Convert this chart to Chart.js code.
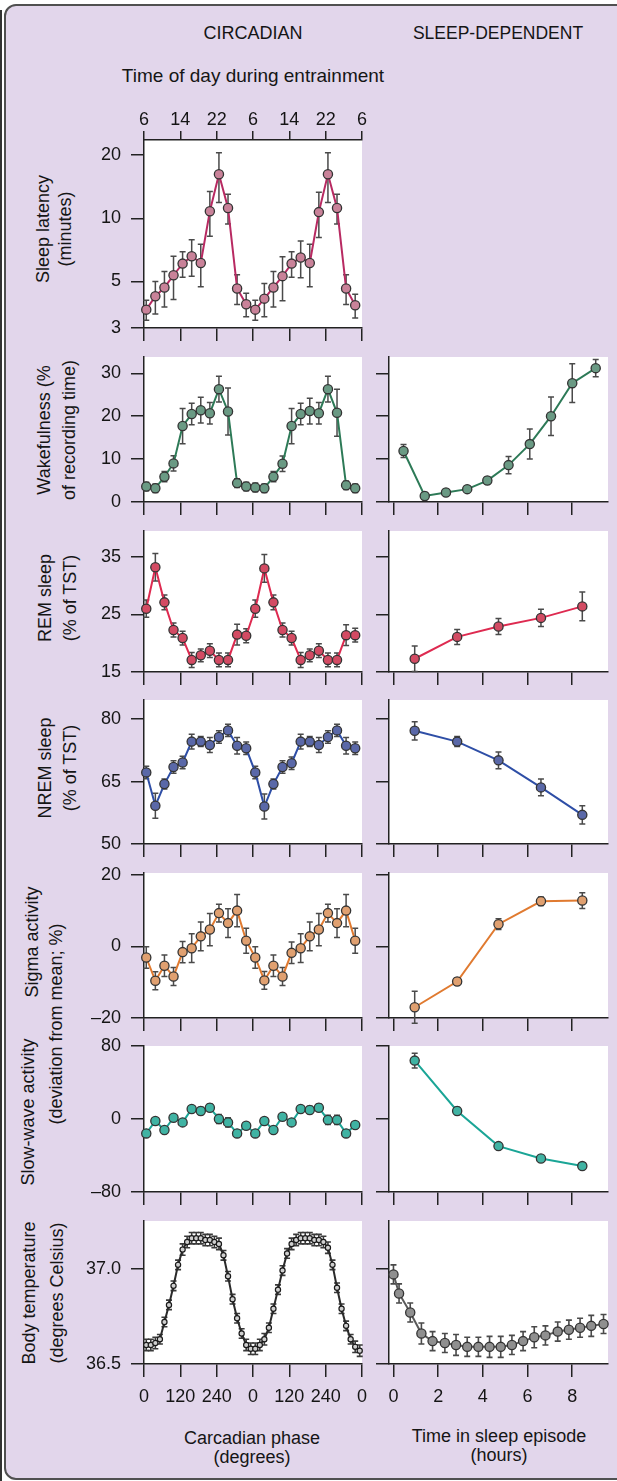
<!DOCTYPE html>
<html><head><meta charset="utf-8">
<script src="https://cdn.jsdelivr.net/npm/chart.js@4.4.0/dist/chart.umd.min.js"></script>
<style>
html,body{margin:0;padding:0;}
body{width:617px;height:1481px;position:relative;overflow:hidden;background:#fff;font-family:'Liberation Sans',Arial,sans-serif;color:#151515;}
#frame{position:absolute;left:4px;top:4px;width:660px;height:1472px;border:2px solid #505050;border-radius:12px;background:#e2d6eb;}
#edge{position:absolute;left:0;top:10px;width:2px;height:1471px;background:#333;}
.t{position:absolute;white-space:nowrap;transform:translate(-50%,-50%);font-size:18px;line-height:21px;text-align:center;}
.r{position:absolute;white-space:nowrap;transform:translate(-50%,-50%) rotate(-90deg);font-size:18px;text-align:center;}
canvas{position:absolute;}
</style></head>
<body>
<div id="edge"></div>
<div id="frame"></div>
<div class="t" style="left:253px;top:33px;font-size:18px">CIRCADIAN</div>
<div class="t" style="left:498px;top:33px;font-size:17.5px">SLEEP-DEPENDENT</div>
<div class="t" style="left:253px;top:75px;font-size:19px">Time of day during entrainment</div>
<div class="r" style="left:54px;top:229px;line-height:22px">Sleep latency<br>(minutes)</div>
<div class="r" style="left:57px;top:430px;line-height:25px">Wakefulness (%<br>of recording time)</div>
<div class="r" style="left:58px;top:598px;line-height:25px">REM sleep<br>(% of TST)</div>
<div class="r" style="left:58px;top:768px;line-height:25px">NREM sleep<br>(% of TST)</div>
<div class="r" style="left:32px;top:942px">Sigma activity</div>
<div class="r" style="left:56px;top:1024px">(deviation from mean; %)</div>
<div class="r" style="left:28px;top:1112px">Slow-wave activity</div>
<div class="r" style="left:43px;top:1293px;line-height:28px">Body temperature<br>(degrees Celsius)</div>
<div class="t" style="left:252px;top:1438px">Carcadian phase</div>
<div class="t" style="left:252px;top:1457px">(degrees)</div>
<div class="t" style="left:499px;top:1436px">Time in sleep episode</div>
<div class="t" style="left:499px;top:1455px">(hours)</div>
<script>
// ---------- DATA ----------
const circTicks = [0, 120, 240, 360, 480, 600, 720];
const clockTickLabels = ['6', '14', '22', '6', '14', '22', '6'];
const hourTicks = [0, 2, 4, 6, 8];

const circPhase = [7.5, 37.5, 67.5, 97.5, 127.5, 157.5, 187.5, 217.5, 247.5, 277.5, 307.5, 337.5,
  367.5, 397.5, 427.5, 457.5, 487.5, 517.5, 547.5, 577.5, 607.5, 637.5, 667.5, 697.5];

const latencyCirc = [3.67, 4.25, 4.68, 5.35, 6.08, 6.59, 6.12, 10.8, 16.2, 11.2, 4.63, 3.89,
  3.67, 4.14, 4.68, 5.30, 6.08, 6.50, 6.12, 10.7, 16.2, 11.2, 4.63, 3.85];
const latencyCircErr = [0.4, 0.75, 0.9, 1.25, 0.85, 1.3, 1.4, 2.6, 4.3, 1.8, 0.75, 0.5,
  0.4, 0.75, 0.9, 1.25, 0.85, 1.3, 1.4, 2.6, 4.3, 1.8, 0.75, 0.5];

const wakeCirc = [3.6, 3.2, 5.9, 9.0, 17.7, 20.5, 21.4, 20.7, 26.3, 21.1, 4.4, 3.6,
  3.4, 3.2, 5.9, 8.9, 17.7, 20.5, 21.2, 20.7, 26.3, 20.8, 3.9, 3.2];
const wakeCircErr = [1, 1, 1.2, 1.8, 4.1, 2.5, 3, 2.5, 3, 5.5, 1, 1,
  1, 1, 1.2, 1.8, 4.1, 2.5, 3, 2.5, 3, 5.5, 1, 1];

const remCirc = [26.0, 33.2, 27.1, 22.3, 20.9, 17.1, 17.9, 18.7, 17.1, 17.1, 21.5, 21.3,
  26.0, 33.0, 27.1, 22.3, 20.9, 17.1, 17.9, 18.7, 17.1, 17.1, 21.4, 21.4];
const remCircErr = [1.5, 2.4, 1.3, 1.2, 1.2, 1.3, 1.1, 1.2, 1.2, 1.2, 1.8, 1.2,
  1.5, 2.4, 1.3, 1.2, 1.2, 1.3, 1.1, 1.2, 1.2, 1.2, 1.8, 1.2];

const nremCirc = [67.2, 59.2, 64.4, 68.5, 69.6, 74.6, 74.6, 73.8, 75.7, 77.3, 73.6, 73.0,
  67.2, 59.0, 64.4, 68.5, 69.4, 74.6, 74.6, 73.8, 75.7, 77.3, 73.6, 73.0];
const nremCircErr = [1.5, 3, 1.2, 1.5, 1.5, 1.8, 1.2, 1.8, 1.5, 1.5, 2, 1.5,
  1.5, 3, 1.2, 1.5, 1.5, 1.8, 1.2, 1.8, 1.5, 1.5, 2, 1.5];

const sigmaCirc = [-3.1, -9.6, -5.4, -8.4, -1.6, -0.5, 2.8, 4.7, 9.3, 6.5, 10.0, 1.6,
  -3.1, -9.5, -5.4, -8.4, -1.8, -0.5, 2.8, 4.7, 9.3, 6.5, 10.0, 1.6];
const sigmaCircErr = [3, 2.5, 3, 2.5, 3, 4, 4, 4.5, 2.5, 4, 4.5, 3.5,
  3, 2.5, 3, 2.5, 3, 4, 4, 4.5, 2.5, 4, 4.5, 3.5];

const swaCirc = [-15.8, -2.2, -12.1, 1.4, -3.7, 11, 8.8, 12.4, 0, -3.7, -15.8, -7.4,
  -15.8, -2.2, -12.0, 2.5, -3.7, 11, 9.9, 12.4, -1, -1, -15.8, -6.6];
const swaCircErr = [3, 3, 3, 3, 3, 3, 4, 4, 5, 5, 3, 3,
  3, 3, 3, 3, 3, 3, 4, 4, 5, 5, 3, 3];

const tempPhase = [7.5, 22.5, 37.5, 52.5, 67.5, 82.5, 97.5, 112.5, 127.5, 142.5, 157.5, 172.5,
  187.5, 202.5, 217.5, 232.5, 247.5, 262.5, 277.5, 292.5, 307.5, 322.5, 337.5, 352.5,
  367.5, 382.5, 397.5, 412.5, 427.5, 442.5, 457.5, 472.5, 487.5, 502.5, 517.5, 532.5,
  547.5, 562.5, 577.5, 592.5, 607.5, 622.5, 637.5, 652.5, 667.5, 682.5, 697.5, 712.5];
const tempCirc = [36.60, 36.60, 36.61, 36.63, 36.72, 36.81, 36.91, 37.02, 37.10, 37.14, 37.16, 37.16,
  37.16, 37.15, 37.15, 37.14, 37.13, 37.07, 36.96, 36.84, 36.74, 36.66, 36.60, 36.58,
  36.58, 36.60, 36.63, 36.69, 36.79, 36.89, 36.99, 37.08, 37.13, 37.15, 37.16, 37.16,
  37.16, 37.15, 37.15, 37.14, 37.11, 37.02, 36.90, 36.79, 36.70, 36.63, 36.59, 36.57];
const tempCircErr = [0.03, 0.03, 0.03, 0.025, 0.025, 0.025, 0.025, 0.025, 0.03, 0.03, 0.03, 0.03,
  0.03, 0.03, 0.03, 0.03, 0.03, 0.025, 0.025, 0.025, 0.025, 0.025, 0.03, 0.03,
  0.03, 0.03, 0.03, 0.025, 0.025, 0.025, 0.025, 0.025, 0.03, 0.03, 0.03, 0.03,
  0.03, 0.03, 0.03, 0.03, 0.03, 0.025, 0.025, 0.025, 0.025, 0.025, 0.03, 0.03];

const wakeHours = [0.45, 1.4, 2.35, 3.3, 4.2, 5.15, 6.1, 7.05, 8.0, 9.05];
const wakeSleep = [11.9, 1.4, 2.2, 3.0, 5.0, 8.6, 13.5, 20.0, 27.7, 31.2];
const wakeSleepErr = [1.5, 0.8, 0.8, 0.7, 0.8, 2, 3.5, 4.5, 4.5, 2];

const stageHours = [0.95, 2.85, 4.7, 6.6, 8.45];
const remSleep = [17.3, 21.1, 22.9, 24.4, 26.4];
const remSleepErr = [2.2, 1.3, 1.4, 1.5, 2.5];
const nremSleep = [77.2, 74.6, 70.1, 63.6, 57.0];
const nremSleepErr = [2.2, 1.2, 2, 2, 2.2];
const sigmaSleep = [-17.0, -9.8, 6.2, 12.6, 12.8];
const sigmaSleepErr = [4.5, 1, 1.5, 1.2, 2.2];
const swaSleep = [64, 8.8, -29.7, -43.3, -51.6];
const swaSleepErr = [8, 4, 3, 2, 2];

const tempHours = [0, 0.25, 0.75, 1.25, 1.75, 2.3, 2.8, 3.3, 3.8, 4.3, 4.8, 5.3, 5.8, 6.3, 6.8, 7.35, 7.85, 8.35, 8.85, 9.4];
const tempSleep = [36.97, 36.87, 36.77, 36.66, 36.62, 36.61, 36.60, 36.59, 36.59, 36.59, 36.59, 36.60, 36.62, 36.64, 36.65, 36.67, 36.68, 36.69, 36.70, 36.71];
const tempSleepErr = [0.05, 0.05, 0.05, 0.055, 0.05, 0.05, 0.055, 0.05, 0.05, 0.055, 0.055, 0.05, 0.05, 0.055, 0.05, 0.05, 0.05, 0.05, 0.055, 0.05];

// ---------- RENDERING ----------
Chart.defaults.font.family = "'Liberation Sans', Arial, sans-serif";
Chart.defaults.font.size = 18;
Chart.defaults.color = '#151515';
const AX = '#222';

const bgPlugin = {
  id: 'bgArea',
  beforeDraw(chart) {
    const {ctx, chartArea: a} = chart;
    ctx.save(); ctx.fillStyle = '#fff';
    ctx.fillRect(a.left, a.top, a.right - a.left, a.bottom - a.top);
    ctx.restore();
  }
};
const errPlugin = {
  id: 'errBars',
  beforeDatasetsDraw(chart) {
    const ctx = chart.ctx;
    chart.data.datasets.forEach((ds, di) => {
      if (!ds.err) return;
      const meta = chart.getDatasetMeta(di);
      const xs = chart.scales[meta.xAxisID], ys = chart.scales[meta.yAxisID];
      ctx.save();
      ctx.strokeStyle = ds.errColor || '#4a4a4a';
      ctx.lineWidth = ds.errWidth || 1.5;
      const cw = ds.capW || 3;
      ds.data.forEach((p, i) => {
        const e = ds.err[i];
        const px = xs.getPixelForValue(p.x);
        const y1 = ys.getPixelForValue(p.y + e), y2 = ys.getPixelForValue(p.y - e);
        ctx.beginPath();
        ctx.moveTo(px, y1); ctx.lineTo(px, y2);
        ctx.moveTo(px - cw, y1); ctx.lineTo(px + cw, y1);
        ctx.moveTo(px - cw, y2); ctx.lineTo(px + cw, y2);
        ctx.stroke();
      });
      ctx.restore();
    });
  }
};

function series(xs, ys, errs, line, fill, extra) {
  return Object.assign({
    data: xs.map((x, i) => ({x: x, y: ys[i]})),
    err: errs, xAxisID: 'x', yAxisID: 'y',
    borderColor: line, borderWidth: 2, tension: 0, clip: false,
    pointRadius: 4.6, pointBorderColor: '#333', pointBorderWidth: 1.3,
    pointBackgroundColor: fill
  }, extra || {});
}
const fixTicks = arr => s => { s.ticks = arr.map(v => ({value: v})); };
const dashNum = v => v < 0 ? '\u2013' + Math.abs(v) : String(v);

function makePanel(o) {
  const YW = 80, PR = 16, PB = 12;
  const PT = o.top ? 44 : 30;
  const XH = o.xLabels ? 46 : 16;
  const W = YW + o.w + PR, H = PT + o.h + XH + PB;
  const c = document.createElement('canvas');
  c.width = W; c.height = H;
  c.style.left = (o.l - YW) + 'px'; c.style.top = (o.t - PT) + 'px';
  c.style.width = W + 'px'; c.style.height = H + 'px';
  document.body.appendChild(c);
  const gridOpt = len => ({drawOnChartArea: false, drawTicks: true, tickLength: len, color: AX, lineWidth: 1.5});
  const border = {display: true, color: AX, width: 1.5};
  const scales = {
    x: {
      type: 'linear', position: 'bottom', min: o.xMin, max: o.xMax,
      afterBuildTicks: fixTicks(o.xTicks), afterFit: s => { s.height = XH; },
      grid: gridOpt(13), border: border,
      ticks: {display: !!o.xLabels, padding: 9, maxRotation: 0, autoSkip: false,
        callback: o.xLabelFn || (v => String(v))}
    },
    y: {
      type: o.yType || 'linear', position: 'left', min: o.yMin, max: o.yMax,
      afterBuildTicks: fixTicks(o.yTicks), afterFit: s => { s.width = YW; },
      grid: gridOpt(13), border: border,
      ticks: {display: o.yLabels !== false, padding: 10, autoSkip: false,
        callback: o.yLabelFn || dashNum}
    }
  };
  if (o.top) {
    scales.xTop = {
      type: 'linear', position: 'top', min: o.xMin, max: o.xMax,
      afterBuildTicks: fixTicks(o.xTicks), afterFit: s => { s.height = PT; },
      grid: gridOpt(9), border: border,
      ticks: {padding: 0, maxRotation: 0, autoSkip: false,
        callback: (v, i) => clockTickLabels[i]}
    };
  }
  new Chart(c, {
    type: 'line',
    data: {datasets: o.datasets},
    options: {
      responsive: false, animation: false, events: [],
      layout: {padding: {left: 0, top: o.top ? 0 : PT, right: PR, bottom: PB}},
      plugins: {legend: {display: false}, tooltip: {enabled: false}},
      scales: scales
    },
    plugins: [bgPlugin, errPlugin]
  });
}

const L = {l: 144, w: 218, xMin: 0, xMax: 720, xTicks: circTicks};
const R = {l: 389, w: 219, xMin: -0.2, xMax: 9.6, xTicks: hourTicks, yLabels: false};
const rows = {
  lat: {t: 140, h: 188},
  wake: {t: 357, h: 145, yMin: 0, yMax: 33.8, yTicks: [0, 10, 20, 30]},
  rem: {t: 531, h: 141, yMin: 15, yMax: 39.5, yTicks: [15, 25, 35]},
  nrem: {t: 700, h: 144, yMin: 50, yMax: 84.6, yTicks: [50, 65, 80]},
  sig: {t: 873, h: 145, yMin: -20, yMax: 20.5, yTicks: [-20, 0, 20]},
  swa: {t: 1046, h: 146, yMin: -80, yMax: 80, yTicks: [-80, 0, 80]},
  temp: {t: 1221, h: 143, yMin: 36.5, yMax: 37.25, yTicks: [36.5, 37.0]}
};

// Circadian column
makePanel(Object.assign({}, L, rows.lat, {top: true, yType: 'logarithmic', yMin: 3, yMax: 23.6, yTicks: [3, 5, 10, 20],
  datasets: [series(circPhase, latencyCirc, latencyCircErr, '#b82a62', '#c98299')]}));
makePanel(Object.assign({}, L, rows.wake, {datasets: [series(circPhase, wakeCirc, wakeCircErr, '#2d7a57', '#6a9a84')]}));
makePanel(Object.assign({}, L, rows.rem, {datasets: [series(circPhase, remCirc, remCircErr, '#de2a50', '#d34b63')]}));
makePanel(Object.assign({}, L, rows.nrem, {datasets: [series(circPhase, nremCirc, nremCircErr, '#2e4ea6', '#5a68a8')]}));
makePanel(Object.assign({}, L, rows.sig, {datasets: [series(circPhase, sigmaCirc, sigmaCircErr, '#e07a30', '#e0a070')]}));
makePanel(Object.assign({}, L, rows.swa, {datasets: [series(circPhase, swaCirc, swaCircErr, '#1aa596', '#40b3a3')]}));
makePanel(Object.assign({}, L, rows.temp, {xLabels: true, xLabelFn: v => String(v % 360), yLabelFn: v => v.toFixed(1),
  datasets: [series(tempPhase, tempCirc, tempCircErr, '#2a2a2a', '#cfcfcf',
    {borderWidth: 2, pointRadius: 2.6, pointBorderWidth: 1.2, pointBorderColor: '#1a1a1a', errColor: '#3a3a3a', errWidth: 1.6, capW: 3})]}));

// Sleep-dependent column
makePanel(Object.assign({}, R, rows.wake, {datasets: [series(wakeHours, wakeSleep, wakeSleepErr, '#2d7a57', '#6a9a84')]}));
makePanel(Object.assign({}, R, rows.rem, {datasets: [series(stageHours, remSleep, remSleepErr, '#de2a50', '#d34b63')]}));
makePanel(Object.assign({}, R, rows.nrem, {datasets: [series(stageHours, nremSleep, nremSleepErr, '#2e4ea6', '#5a68a8')]}));
makePanel(Object.assign({}, R, rows.sig, {datasets: [series(stageHours, sigmaSleep, sigmaSleepErr, '#e07a30', '#e0a070')]}));
makePanel(Object.assign({}, R, rows.swa, {datasets: [series(stageHours, swaSleep, swaSleepErr, '#1aa596', '#40b3a3')]}));
makePanel(Object.assign({}, R, rows.temp, {xLabels: true, xLabelFn: v => String(v),
  datasets: [series(tempHours, tempSleep, tempSleepErr, '#5a5a5a', '#8f8f8f', {errColor: '#4a4a4a', errWidth: 1.6})]}));
</script>
</body></html>
